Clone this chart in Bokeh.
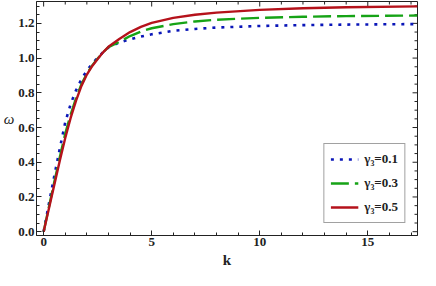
from bokeh.plotting import figure
from bokeh.models import Range1d, SingleIntervalTicker, NumeralTickFormatter, Legend, LegendItem
from bokeh.embed import file_html
from bokeh.resources import INLINE

k = [0, 0.25, 0.5, 0.75, 1.0, 1.25, 1.5, 1.75, 2.0, 2.25, 2.5, 2.75, 3.0, 3.5, 4.0, 4.5, 5.0, 6.0, 7.0, 8.0, 10.0, 12.0, 14.0, 17.3]
w_g01 = [0, 0.165, 0.325, 0.48, 0.63, 0.735, 0.815, 0.878, 0.928, 0.968, 1.002, 1.033, 1.062, 1.09, 1.108, 1.124, 1.137, 1.157, 1.168, 1.176, 1.185, 1.19, 1.193, 1.196]
w_g03 = [0, 0.145, 0.29, 0.43, 0.565, 0.675, 0.77, 0.85, 0.91, 0.958, 0.998, 1.033, 1.063, 1.093, 1.127, 1.153, 1.172, 1.196, 1.211, 1.221, 1.232, 1.238, 1.242, 1.245]
w_g05 = [0, 0.137, 0.274, 0.41, 0.54, 0.655, 0.755, 0.84, 0.905, 0.955, 0.995, 1.033, 1.065, 1.11, 1.15, 1.18, 1.203, 1.232, 1.25, 1.262, 1.278, 1.287, 1.293, 1.298]
labels = ["γ₃=0.1", "γ₃=0.3", "γ₃=0.5"]
x_major = [0, 5, 10, 15]
x_minor = [1, 2, 3, 4, 6, 7, 8, 9, 11, 12, 13, 14, 16, 17]
y_major = [0.0, 0.2, 0.4, 0.6, 0.8, 1.0, 1.2]
y_minor = [0.05, 0.1, 0.15, 0.25, 0.3, 0.35, 0.45, 0.5, 0.55, 0.65, 0.7, 0.75,
           0.85, 0.9, 0.95, 1.05, 1.1, 1.15, 1.25, 1.3]
x_lo, x_hi = -0.33, 17.3
y_lo, y_hi = -0.022, 1.326

FONT = "Liberation Serif"
INK = "#222222"
W, H = 420, 270

p = figure(width=W, height=H, x_range=Range1d(x_lo, x_hi), y_range=Range1d(y_lo, y_hi),
           output_backend="svg", toolbar_location=None,
           min_border_left=2, min_border_right=3, min_border_top=1, min_border_bottom=2)
p.xgrid.visible = False
p.ygrid.visible = False
p.outline_line_color = INK
p.background_fill_color = "white"
p.border_fill_color = "white"

xt = SingleIntervalTicker(interval=5, num_minor_ticks=5)
yt = SingleIntervalTicker(interval=0.2, num_minor_ticks=4)

xa = p.xaxis[0]
ya = p.yaxis[0]
xa.ticker = xt
xa.formatter = NumeralTickFormatter(format="0")
xa.axis_label = "k"
xa.axis_label_text_font_style = "bold"
xa.axis_label_standoff = 3
ya.ticker = yt
ya.formatter = NumeralTickFormatter(format="0.0")
ya.axis_label = "ω"
ya.axis_label_text_font_style = "italic"
ya.axis_label_orientation = "horizontal"
ya.axis_label_standoff = 1

for ax in [xa, ya]:
    ax.major_tick_in = 5
    ax.major_tick_out = 0
    ax.minor_tick_in = 3
    ax.minor_tick_out = 0
    ax.axis_line_color = INK
    ax.major_tick_line_color = INK
    ax.minor_tick_line_color = INK
    ax.major_label_text_font = FONT
    ax.major_label_text_font_style = "bold"
    ax.major_label_text_font_size = "13px"
    ax.major_label_text_color = INK
    ax.major_label_standoff = 2
    ax.axis_label_text_font = FONT
    ax.axis_label_text_font_size = "15px"
    ax.axis_label_text_color = INK

# inward ticks on the top and right edges of the frame
dy_major = (y_hi - y_lo) * 5 / 232
dy_minor = (y_hi - y_lo) * 3 / 232
dx_major = (x_hi - x_lo) * 5 / 385
dx_minor = (x_hi - x_lo) * 3 / 385
p.segment(x0=x_major, y0=[y_hi] * len(x_major), x1=x_major, y1=[y_hi - dy_major] * len(x_major),
          line_color=INK, line_width=1)
p.segment(x0=x_minor, y0=[y_hi] * len(x_minor), x1=x_minor, y1=[y_hi - dy_minor] * len(x_minor),
          line_color=INK, line_width=1)
p.segment(x0=[x_hi] * len(y_major), y0=y_major, x1=[x_hi - dx_major] * len(y_major), y1=y_major,
          line_color=INK, line_width=1)
p.segment(x0=[x_hi] * len(y_minor), y0=y_minor, x1=[x_hi - dx_minor] * len(y_minor), y1=y_minor,
          line_color=INK, line_width=1)

r1 = p.line(k, w_g01, line_color="#0a16b8", line_width=2.6, line_dash="3 6")
r2 = p.line(k, w_g03, line_color="#16a316", line_width=2.4, line_dash="18 6")
r3 = p.line(k, w_g05, line_color="#b5121b", line_width=2.4)

legend = Legend(items=[LegendItem(label=labels[0], renderers=[r1]),
                       LegendItem(label=labels[1], renderers=[r2]),
                       LegendItem(label=labels[2], renderers=[r3])],
                location="bottom_right")
legend.label_text_font = FONT
legend.label_text_font_style = "bold"
legend.label_text_font_size = "13px"
legend.label_text_color = INK
legend.border_line_color = "#444444"
legend.border_line_width = 1
legend.glyph_width = 28
legend.glyph_height = 18
legend.spacing = 6
legend.padding = 6
legend.margin = 12
legend.label_standoff = 6
p.add_layout(legend, "center")

open("out.html", "w").write(file_html(p, INLINE))
